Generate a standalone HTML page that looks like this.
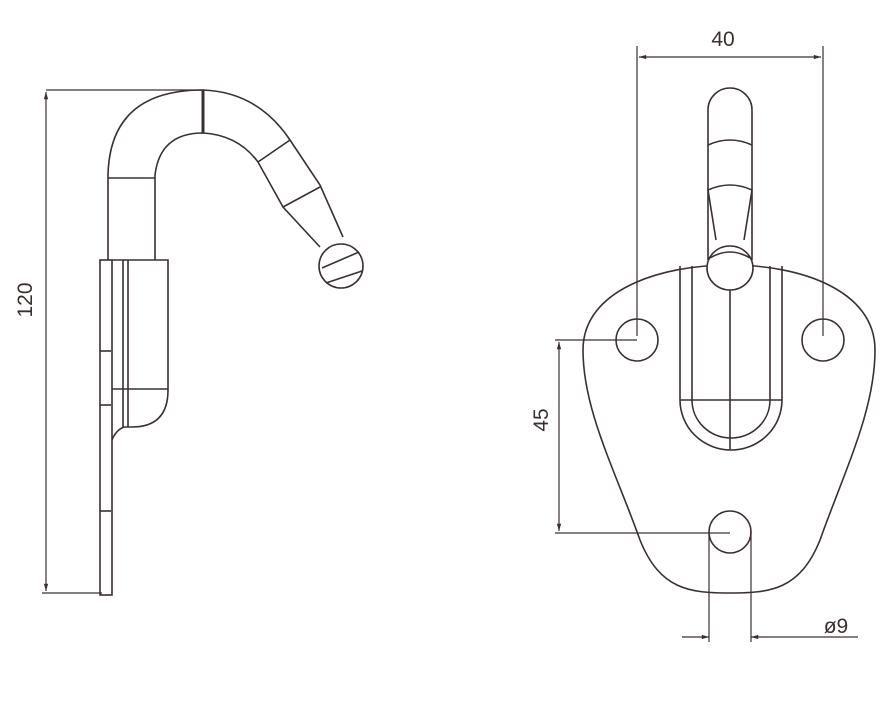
<!DOCTYPE html>
<html><head><meta charset="utf-8"><style>
html,body{margin:0;padding:0;background:#fff;}
svg{display:block;}
text{font-family:"Liberation Sans",sans-serif;fill:#3a3030;}
</style></head><body>
<svg width="888" height="701" viewBox="0 0 888 701" xmlns="http://www.w3.org/2000/svg">
<defs>
<marker id="a" viewBox="0 0 10 10" refX="10" refY="5" markerWidth="8" markerHeight="6" orient="auto-start-reverse"><path d="M0,2 L10,5 L0,8 z" fill="#3a3030"/></marker>
</defs>
<g fill="none" stroke="#3a3030" stroke-width="1.6">
<!-- LEFT VIEW -->
<!-- 120 dimension -->
<line x1="46" y1="90" x2="205" y2="90" stroke-width="1.2"/>
<line x1="42" y1="593" x2="102" y2="593" stroke-width="1.2"/>
<line x1="46" y1="92" x2="46" y2="591" stroke-width="1.2" marker-start="url(#a)" marker-end="url(#a)"/>
<!-- plate -->
<rect x="100" y="260" width="12" height="335"/>
<line x1="100" y1="351" x2="111" y2="351"/>
<line x1="100" y1="405" x2="111" y2="405"/>
<line x1="100" y1="511" x2="111" y2="511"/>
<!-- block -->
<path d="M112,260 H168 V390 Q168,427 132,427 H124"/>
<line x1="123" y1="260" x2="123" y2="427"/>
<line x1="128" y1="260" x2="128" y2="427"/>
<line x1="112" y1="389" x2="168" y2="389"/>
<path d="M112,440 Q116,430 124,427"/>
<!-- shank -->
<path d="M108,260 V175 Q110,90 203,90 Q258,92 290,140 L320,185 L343,237"/>
<path d="M155,260 V175 Q160,133 203,133 Q238,135 258,162 L283,207 L320,247"/>
<line x1="108" y1="178" x2="155" y2="178"/>
<line x1="203" y1="90" x2="203" y2="133" stroke-width="3"/>
<line x1="258" y1="162" x2="290" y2="140"/>
<line x1="283" y1="207" x2="320" y2="187"/>
<circle cx="341" cy="266" r="22"/>
<line x1="322" y1="268" x2="359" y2="252"/>
<line x1="326" y1="283" x2="362" y2="271"/>

<!-- RIGHT VIEW -->
<!-- 40 dimension -->
<line x1="637" y1="46" x2="637" y2="336" stroke-width="1.2"/>
<line x1="823" y1="46" x2="823" y2="336" stroke-width="1.2"/>
<line x1="639" y1="57" x2="821" y2="57" stroke-width="1.2" marker-start="url(#a)" marker-end="url(#a)"/>
<!-- plate outline -->
<path d="M730,265 C800,265 875,290 875,350 C875,410 845,470 820,540 C800,590 770,593 730,593 C690,593 660,590 640,540 C615,470 583,410 583,350 C583,290 660,265 730,265 Z"/>
<!-- holes -->
<circle cx="637" cy="340" r="21"/>
<circle cx="823" cy="340" r="21"/>
<circle cx="730" cy="532" r="21"/>
<!-- channel -->
<path d="M680,266 V400 A51,50 0 0 0 782,400 V266"/>
<path d="M692,266 V400 A39,38 0 0 0 770,400 V266"/>
<line x1="680" y1="400" x2="782" y2="400"/>
<line x1="730" y1="290" x2="730" y2="450"/>
<!-- hook front -->
<path d="M708,260 V110 A22,22 0 0 1 752,110 V260"/>
<path d="M708,145 Q730,135 752,145"/>
<path d="M708,190 Q730,180 752,190"/>
<path d="M708,190 L716,240 M752,190 L744,240"/>
<ellipse cx="730" cy="268" rx="23" ry="22" fill="#fff"/>
<path d="M710,258 Q730,246 750,258"/>
<!-- 45 dimension -->
<line x1="555" y1="340" x2="637" y2="340" stroke-width="1.2"/>
<line x1="555" y1="533" x2="730" y2="533" stroke-width="1.2"/>
<line x1="559" y1="342" x2="559" y2="531" stroke-width="1.2" marker-start="url(#a)" marker-end="url(#a)"/>
<!-- dia 9 -->
<line x1="709" y1="532" x2="709" y2="642" stroke-width="1.2"/>
<line x1="751" y1="532" x2="751" y2="642" stroke-width="1.2"/>
<line x1="682" y1="637" x2="709" y2="637" stroke-width="1.2" marker-end="url(#a)"/>
<line x1="858" y1="637" x2="751" y2="637" stroke-width="1.2" marker-end="url(#a)"/>
</g>
<text x="723" y="46" font-size="21" text-anchor="middle">40</text>
<text x="0" y="0" font-size="21" text-anchor="middle" transform="translate(32,300) rotate(-90)">120</text>
<text x="0" y="0" font-size="21" text-anchor="middle" transform="translate(548,420) rotate(-90)">45</text>
<text x="836" y="633" font-size="21" text-anchor="middle">ø9</text>
</svg>
</body></html>
